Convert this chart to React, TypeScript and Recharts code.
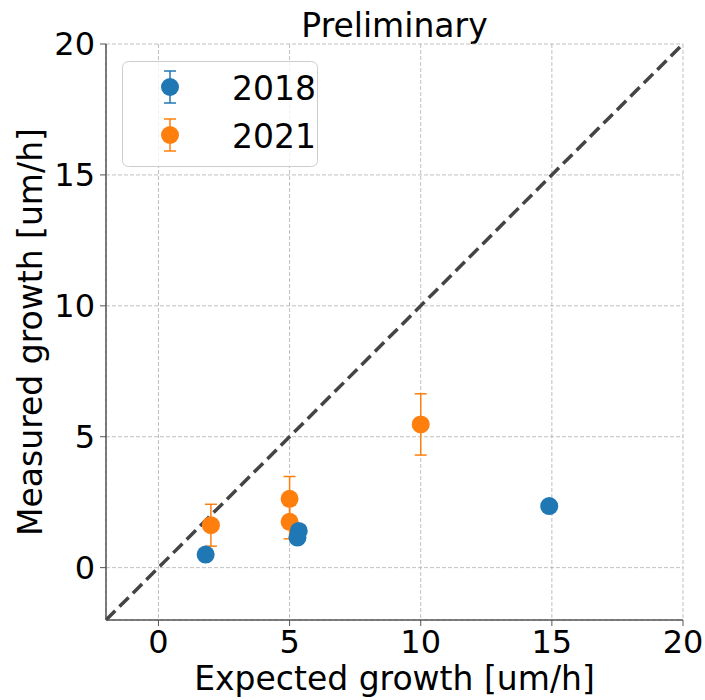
import React from 'react';
import { ScatterChart, Scatter, XAxis, YAxis, CartesianGrid, ErrorBar, ReferenceLine } from 'recharts';

const xTicks = [0, 5, 10, 15, 20];
const yTicks = [0, 5, 10, 15, 20];
const expected2018 = [1.8, 5.35, 5.3, 14.9];
const measured2018 = [0.5, 1.4, 1.15, 2.35];
const expected2021 = [2.0, 5.0, 5.0, 10.0];
const measured2021 = [1.62, 2.63, 1.75, 5.47];
const error2021 = [0.8, 0.85, 0.65, 1.17];
const seriesNames = ['2018', '2021'];
const colors = ['#1f77b4', '#ff7f0e'];

const data2018 = expected2018.map((x, i) => ({ x, y: measured2018[i] }));
const data2021 = expected2021.map((x, i) => ({ x, y: measured2021[i], err: error2021[i] }));

const FONT = '"DejaVu Sans", sans-serif';

const dot = (color: string) => (props: any) => (
  <circle cx={props.cx} cy={props.cy} r={9} fill={color} />
);

const LegendBox = () => (
  <svg width={196} height={106} style={{ display: 'block' }}>
    <rect x={0.5} y={0.5} width={195} height={105} rx={6} ry={6} fill="rgba(255,255,255,0.8)" stroke="#cccccc" strokeWidth={1} />
    {seriesNames.map((name, i) => {
      const cy = 26 + i * 48;
      return (
        <g key={name}>
          <line x1={48} x2={48} y1={cy - 16} y2={cy + 16} stroke={colors[i]} strokeWidth={1.5} />
          <line x1={42} x2={54} y1={cy - 16} y2={cy - 16} stroke={colors[i]} strokeWidth={1.5} />
          <line x1={42} x2={54} y1={cy + 16} y2={cy + 16} stroke={colors[i]} strokeWidth={1.5} />
          <circle cx={48} cy={cy} r={9} fill={colors[i]} />
          <text x={110} y={cy + 13} fontSize={33} fontFamily={FONT} fill="#000">{name}</text>
        </g>
      );
    })}
  </svg>
);

const YLabel = () => (
  <text x={42} y={332} transform="rotate(-90, 42, 332)" textAnchor="middle" fontSize={33} fontFamily={FONT} fill="#000">
    Measured growth [um/h]
  </text>
);

export default function App() {
  return (
    <div style={{ position: 'absolute', left: 0, top: 0, width: 705, height: 700, background: '#fff' }}>
      <svg width={705} height={50} style={{ position: 'absolute', left: 0, top: 0 }}>
        <text x={394.5} y={37} textAnchor="middle" fontSize={33} fontFamily={FONT} fill="#000">Preliminary</text>
      </svg>
      <div style={{ position: 'absolute', left: 0, top: 0 }}>
        <ScatterChart width={705} height={700} margin={{ top: 44, right: 22, bottom: 0, left: 36 }}>
          <CartesianGrid stroke="#b0b0b0" strokeDasharray="4 2" strokeWidth={0.8} />
          <XAxis
            type="number"
            dataKey="x"
            domain={[-2, 20]}
            ticks={xTicks}
            allowDataOverflow
            height={80}
            tickSize={6}
            tickMargin={4}
            axisLine={{ stroke: '#555', strokeWidth: 1.5 }}
            tickLine={{ stroke: '#555' }}
            tick={{ fontSize: 32, fontFamily: FONT, fill: '#000' }}
            label={{ value: 'Expected growth [um/h]', position: 'insideBottom', offset: 10, fontSize: 33, fontFamily: FONT, fill: '#000' }}
          />
          <XAxis xAxisId="top" type="number" orientation="top" domain={[-2, 20]} height={0} tick={false} tickLine={false} axisLine={{ stroke: '#000', strokeWidth: 1.5 }} />
          <YAxis
            type="number"
            dataKey="y"
            domain={[-2, 20]}
            ticks={yTicks}
            allowDataOverflow
            width={70}
            tickSize={6}
            tickMargin={5}
            axisLine={{ stroke: '#555', strokeWidth: 1.5 }}
            tickLine={{ stroke: '#555' }}
            tick={{ fontSize: 32, fontFamily: FONT, fill: '#000' }}
            label={<YLabel />}
          />
          <YAxis yAxisId="right" type="number" orientation="right" domain={[-2, 20]} width={0} tick={false} tickLine={false} axisLine={{ stroke: '#555', strokeWidth: 1.5 }} />
          <ReferenceLine segment={[{ x: -2, y: -2 }, { x: 20, y: 20 }]} stroke="#444444" strokeWidth={3.5} strokeDasharray="13 6" />
          <Scatter name="2021" data={data2021} fill={colors[1]} shape={dot(colors[1])} isAnimationActive={false}>
            <ErrorBar dataKey="err" direction="y" width={6} stroke={colors[1]} strokeWidth={1.5} isAnimationActive={false} />
          </Scatter>
          <Scatter name="2018" data={data2018} fill={colors[0]} shape={dot(colors[0])} isAnimationActive={false} />
        </ScatterChart>
      </div>
      <div style={{ position: 'absolute', left: 122, top: 61 }}>
        <LegendBox />
      </div>
    </div>
  );
}
